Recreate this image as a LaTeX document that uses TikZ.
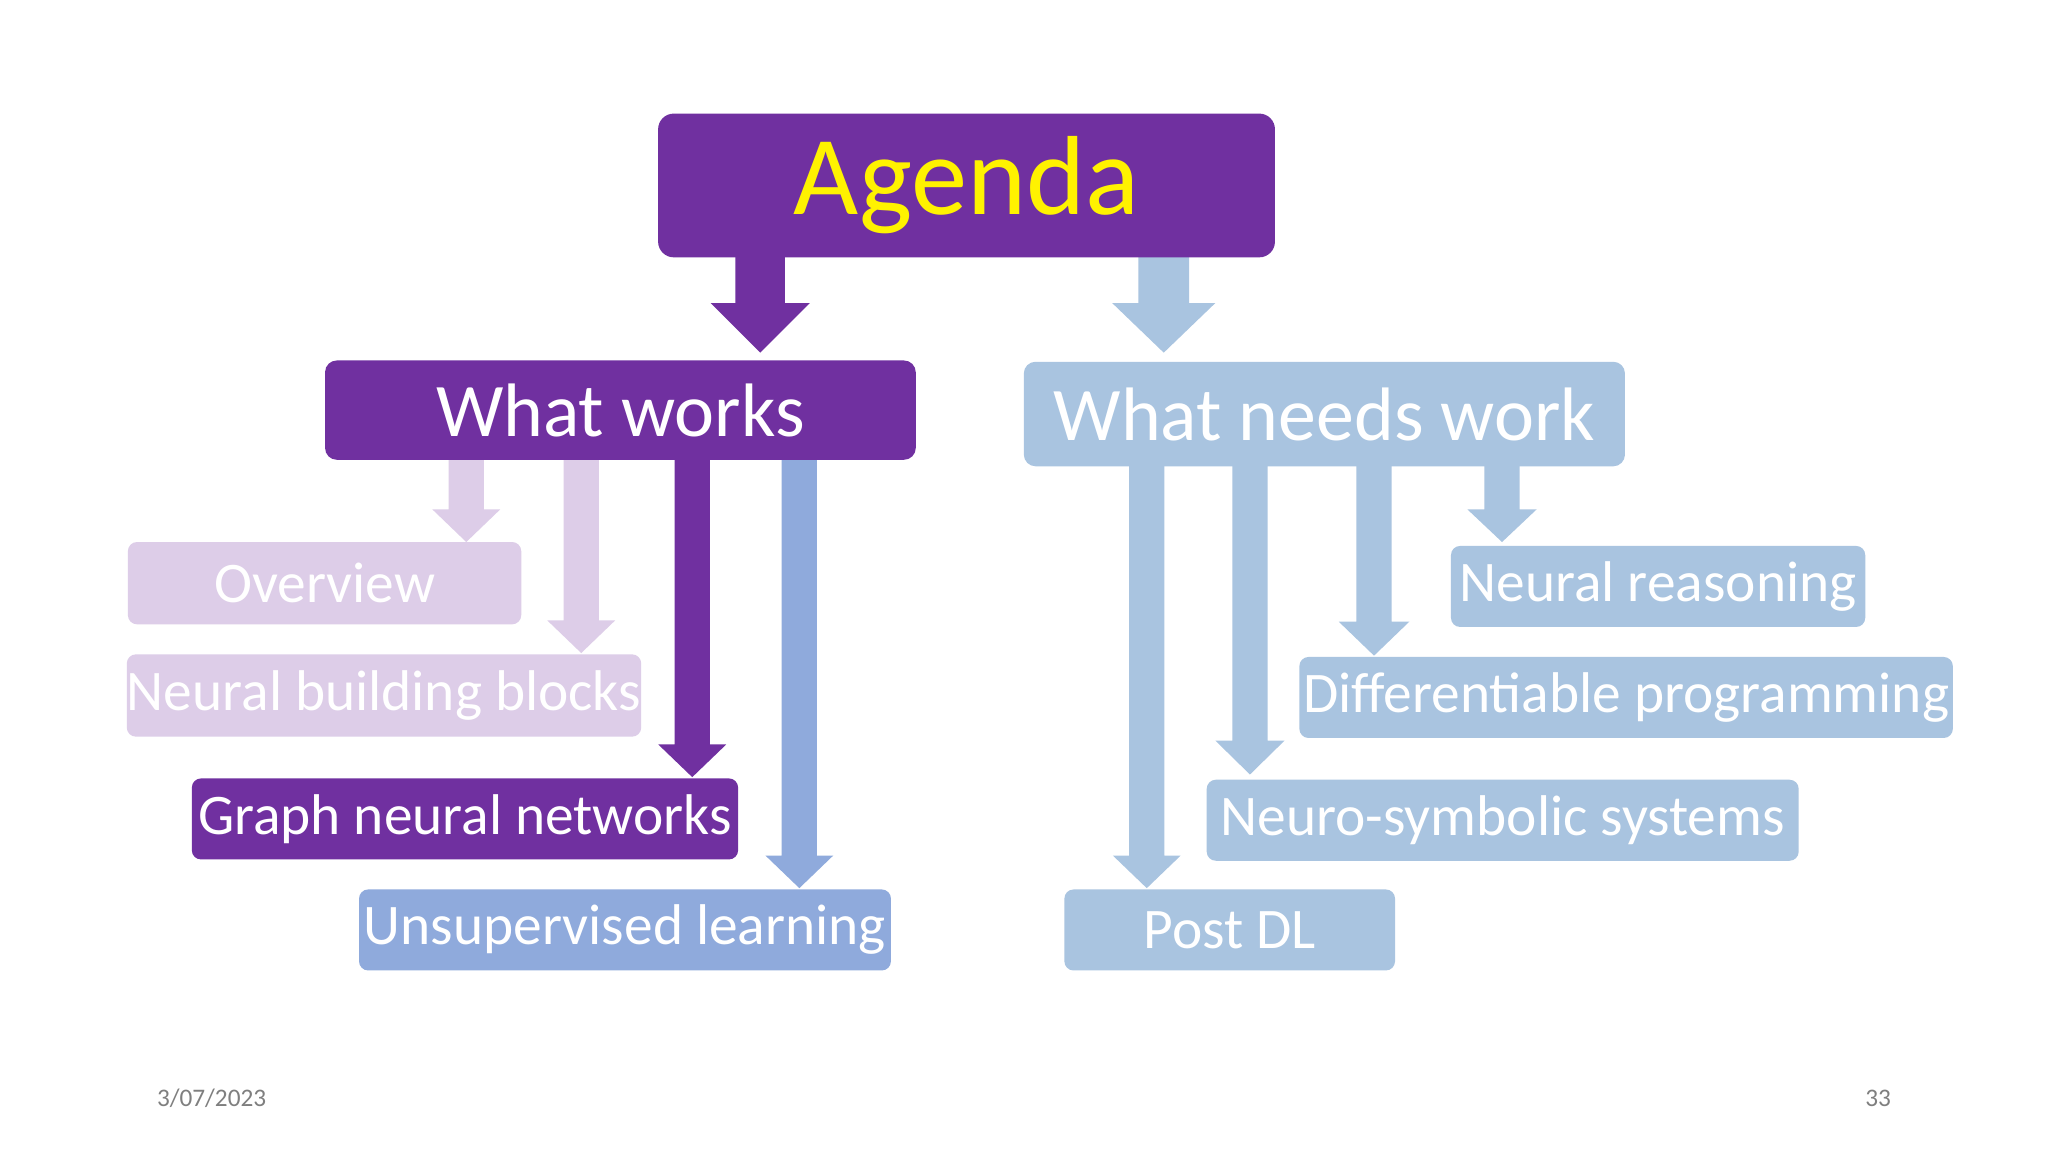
\documentclass[tikz,border=0pt]{standalone}
\usepackage{fontspec}
\setmainfont{Carlito}
\definecolor{dpurple}{HTML}{7030A0}
\definecolor{lblue}{HTML}{A9C4E0}
\definecolor{lav}{HTML}{DDCDE8}
\definecolor{mblue}{HTML}{8FAADC}
\definecolor{foot}{HTML}{7F7F7F}
\newcommand\barrow[7]{\fill[#1] ({#2-#5},#3) -- ({#2-#5},{#4-#7}) -- ({#2-#6},{#4-#7}) -- (#2,#4) -- ({#2+#6},{#4-#7}) -- ({#2+#5},{#4-#7}) -- ({#2+#5},#3) -- cycle;}
\tikzset{
 bx/.style={rectangle, rounded corners=0.07cm, inner sep=0pt, text=white, font=\fontsize{12.5}{14}\selectfont},
}
\begin{document}
\begin{tikzpicture}[x=0.01cm,y=-0.01cm]
\useasboundingbox[fill=white] (0,0) rectangle (1568,882);
% arrows
\barrow{dpurple}{582}{190}{270}{19}{38}{38}
\barrow{lblue}{891}{190}{270}{19.5}{39.5}{38}
\barrow{lav}{357}{350}{415}{13.5}{26}{25}
\barrow{lav}{445}{350}{500}{13.5}{26}{25}
\barrow{dpurple}{530}{350}{595}{13.5}{26}{25}
\barrow{mblue}{612}{350}{680}{13.5}{26}{25}
\barrow{lblue}{878}{355}{680}{13.5}{26}{25}
\barrow{lblue}{957}{355}{593}{13.5}{26.5}{26}
\barrow{lblue}{1052}{355}{502}{13.5}{27}{26}
\barrow{lblue}{1150}{355}{415}{13.5}{26.5}{25}
% boxes
\node[bx, rounded corners=0.12cm, fill=dpurple, text=yellow, minimum width=4.72cm, minimum height=1.10cm, font=\fontsize{24.5}{28}\selectfont] (agenda) at (740,142) {Agenda};
\node[bx, rounded corners=0.09cm, fill=dpurple, minimum width=4.52cm, minimum height=0.76cm, font=\fontsize{16.5}{20}\selectfont] (works) at (475,314) {What works};
\node[bx, rounded corners=0.09cm, fill=lblue, minimum width=4.60cm, minimum height=0.80cm, font=\fontsize{16.5}{20}\selectfont] (needs) at (1014,317) {What needs work};
\node[bx, fill=lav, minimum width=3.01cm, minimum height=0.63cm] (ov) at (248.5,446.5) {Overview};
\node[bx, fill=lav, minimum width=3.92cm, minimum height=0.63cm] (nbb) at (294,532.5) {Neural building blocks};
\node[bx, fill=dpurple, minimum width=4.18cm, minimum height=0.62cm] (gnn) at (356,627) {Graph neural networks};
\node[bx, fill=mblue, minimum width=4.07cm, minimum height=0.62cm] (ul) at (478.5,712) {Unsupervised learning};
\node[bx, fill=lblue, minimum width=3.17cm, minimum height=0.62cm] (nr) at (1269.5,449) {Neural reasoning};
\node[bx, fill=lblue, minimum width=5.00cm, minimum height=0.62cm] (dp) at (1245,534) {Differentiable programming};
\node[bx, fill=lblue, minimum width=4.53cm, minimum height=0.62cm] (ns) at (1150.5,628) {Neuro-symbolic systems};
\node[bx, fill=lblue, minimum width=2.53cm, minimum height=0.62cm] (pdl) at (941.5,712) {Post DL};
% footer
\node[text=foot, font=\fontsize{5.5}{7}\selectfont, inner sep=0pt] (date) at (162,841) {3/07/2023};
\node[text=foot, font=\fontsize{5.5}{7}\selectfont, inner sep=0pt] (pg) at (1438,841) {33};
\end{tikzpicture}
\end{document}
